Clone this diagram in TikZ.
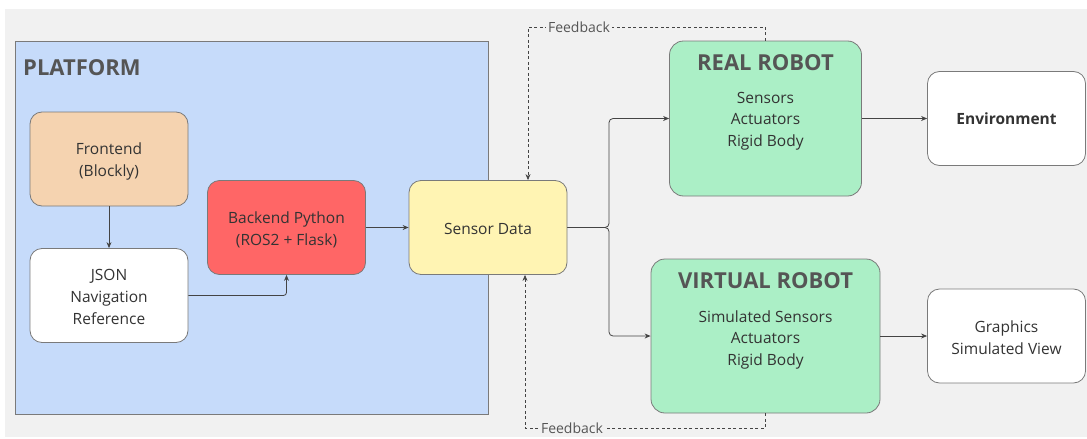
\documentclass[tikz,border=0pt]{standalone}
\usepackage{fontspec}
\setmainfont{Open Sans}
\usetikzlibrary{arrows.meta,calc}

\definecolor{bggray}{HTML}{F1F1F1}
\definecolor{platfill}{HTML}{C6DBFA}
\definecolor{frontfill}{HTML}{F5D3B0}
\definecolor{backfill}{HTML}{FF6666}
\definecolor{sensfill}{HTML}{FFF4B3}
\definecolor{robotfill}{HTML}{ABEFC6}
\definecolor{edgegray}{HTML}{7A7A7A}
\definecolor{linegray}{HTML}{444444}
\definecolor{textdark}{HTML}{333333}
\definecolor{headgray}{HTML}{555555}

\tikzset{
  box/.style={draw=edgegray, line width=0.8pt, rounded corners=12pt,
    minimum width=158pt, minimum height=94pt, inner sep=0pt},
  robotbox/.style={draw=edgegray, line width=0.8pt, rounded corners=14pt,
    fill=robotfill, inner sep=0pt},
  boxtext/.style={align=center, text=textdark, inner sep=0pt,
    font=\fontsize{15.5}{22}\selectfont},
  headtext/.style={text=headgray, font=\fontsize{22}{24}\selectfont\bfseries, inner sep=0pt},
  listtext/.style={text=textdark, align=center, font=\fontsize{15.5}{21.5}\selectfont, inner sep=0pt},
  arr/.style={draw=linegray, line width=0.8pt, -{Stealth[length=6pt,width=5pt]}},
  fb/.style={draw=linegray, line width=0.7pt, dash pattern=on 3pt off 2.5pt,
    -{Stealth[length=6pt,width=5pt]}},
  fblabel/.style={fill=bggray, text=headgray, inner sep=2pt,
    font=\fontsize{14}{15}\selectfont},
}

\begin{document}
\begin{tikzpicture}[x=1pt, y=-1pt]
  \useasboundingbox (0,0) rectangle (1087,439);
  \fill[bggray] (5,9) rectangle (1087,437);

  % platform container
  \draw[edgegray, line width=1pt, fill=platfill] (15,41) rectangle (488,414);
  \node[headtext, anchor=base west] (plat) at (23,75) {PLATFORM};

  % platform components
  \node[box, fill=frontfill] (front) at (109,159) {};
  \node[boxtext] (fronttxt) at ([yshift=-2pt]front.center) {Frontend\\(Blockly)};
  \node[box, fill=white] (json) at (109,295.5) {};
  \node[boxtext] (jsontxt) at ([yshift=-1.5pt]json.center) {JSON\\Navigation\\Reference};
  \node[box, fill=backfill] (back) at (286.5,227.5) {};
  \node[boxtext] (backtxt) at ([yshift=-2pt]back.center) {Backend Python\\(ROS2 + Flask)};
  \node[box, fill=sensfill] (sensor) at (488,227.5) {};
  \node[boxtext] (sensortxt) at ([yshift=-1pt]sensor.center) {Sensor Data};

  % robots
  \node[robotbox, minimum width=192pt, minimum height=155pt] (real) at (765.5,118.5) {};
  \node[headtext, anchor=center] (realhead) at (765.5,62.5) {REAL ROBOT};
  \node[listtext, anchor=center] (reallist) at (765.5,121) {Sensors\\Actuators\\Rigid Body};

  \node[robotbox, minimum width=229pt, minimum height=154pt] (virt) at (765.5,336) {};
  \node[headtext, anchor=center] (virthead) at (765.5,280.5) {VIRTUAL ROBOT};
  \node[listtext, anchor=center] (virtlist) at (765.5,339.5) {Simulated Sensors\\Actuators\\Rigid Body};

  % outputs
  \node[box, fill=white] (env) at (1006.5,118.5) {};
  \node[boxtext, font=\fontsize{15.5}{22}\selectfont\bfseries] (envtxt) at (env.center) {Environment};
  \node[box, fill=white] (gfx) at (1006.5,336) {};
  \node[boxtext] (gfxtxt) at ([yshift=-2pt]gfx.center) {Graphics\\Simulated View};

  % data flow
  \draw[arr] (front) -- (json);
  \draw[arr, rounded corners=3pt] (json.east) -| (back.south);
  \draw[arr] (back.east) -- (sensor.west);
  \coordinate (split) at (609,227.5);
  \draw[arr, rounded corners=4pt] (sensor.east) -- (split) |- (real.west);
  \draw[arr, rounded corners=4pt] (sensor.east) -- (split) |- (virt.west);
  \draw[arr] (real.east) -- (env.west);
  \draw[arr] (virt.east) -- (gfx.west);

  % feedback loops
  \coordinate (fbtop) at (528,27);
  \coordinate (fbbot) at (525,428);
  \draw[fb] (real.north) |- (fbtop) -- (fbtop |- sensor.north);
  \draw[fb] (virt.south) |- (fbbot) -- (fbbot |- sensor.south);
  \node[fblabel] (fbtoplabel) at (579,27) {Feedback};
  \node[fblabel] (fbbotlabel) at (572,428) {Feedback};
\end{tikzpicture}
\end{document}
